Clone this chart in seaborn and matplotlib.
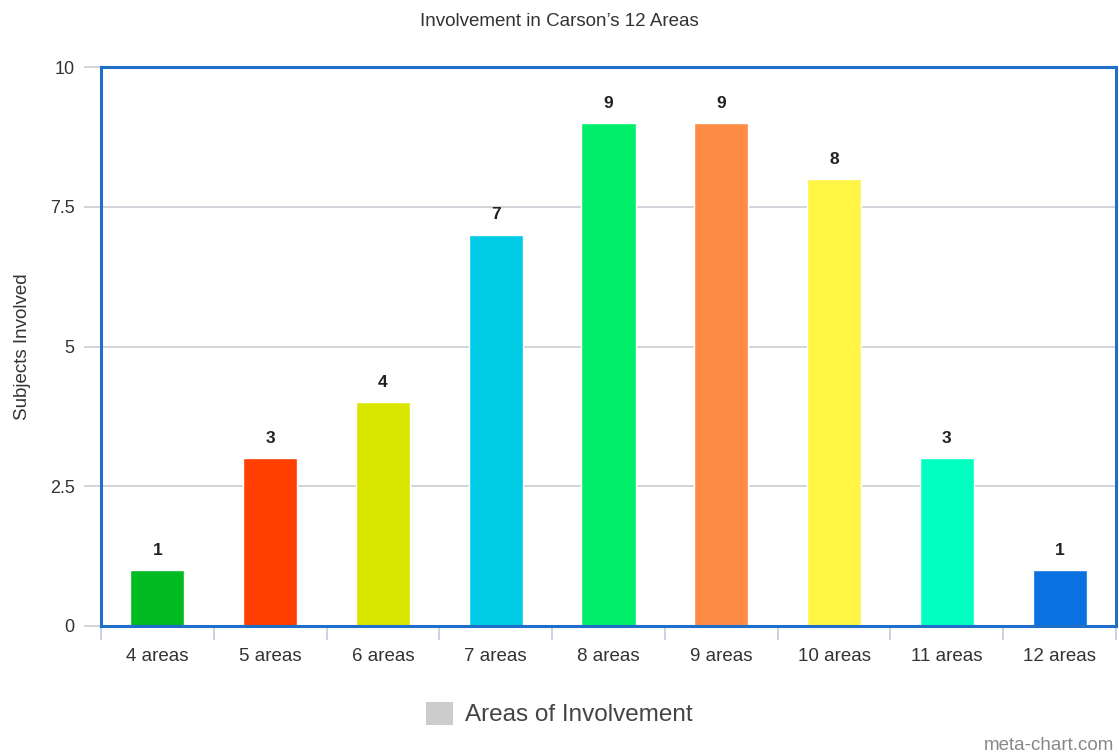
import matplotlib
matplotlib.use("Agg")
import matplotlib.pyplot as plt
from matplotlib.patches import Patch
import seaborn as sns
import pandas as pd
import numpy as np

# Chart data
categories = ["4 areas", "5 areas", "6 areas", "7 areas", "8 areas",
              "9 areas", "10 areas", "11 areas", "12 areas"]
subjects = [1, 3, 4, 7, 9, 9, 8, 3, 1]
bar_colors = ["#00BB22", "#FF4000", "#D9E600", "#00CCE6", "#00EE6A",
              "#FF8C45", "#FFF545", "#00FFC0", "#0A72E0"]
y_ticks = [0, 2.5, 5, 7.5, 10]
y_tick_labels = ["0", "2.5", "5", "7.5", "10"]

sns.set_theme(style="white")
plt.rcParams["font.family"] = ["Liberation Sans", "DejaVu Sans"]

df = pd.DataFrame({"category": categories, "subjects": subjects})

fig = plt.figure(figsize=(11.19, 7.56), dpi=100)
ax = fig.add_axes([101 / 1119, 1 - 626 / 756, (1116 - 101) / 1119, (626 - 67) / 756])

sns.barplot(data=df, x="category", y="subjects", hue="category",
            palette=bar_colors, order=categories, hue_order=categories,
            width=0.48, saturation=1, legend=False, ax=ax)

ax.set_xlim(-0.5, len(categories) - 0.5)
ax.set_ylim(0, 10)
ax.set_yticks(y_ticks)
ax.set_yticklabels(y_tick_labels, fontsize=13, color="#333333")
for y in y_ticks[1:-1]:
    ax.axhline(y, color="#C8CDD3", lw=1.2, zorder=0)
ax.tick_params(axis="y", length=12, width=1.2, color="#C8CDD3", pad=7, left=True)

# category labels, with tick marks on the category boundaries
ax.set_xticks(range(len(categories)))
ax.set_xticklabels(categories, fontsize=13.5, color="#333333")
ax.tick_params(axis="x", which="major", length=0, pad=16)
ax.set_xticks(np.arange(-0.5, len(categories)), minor=True)
ax.tick_params(axis="x", which="minor", length=10, width=1.2, color="#C0CCDA", bottom=True)

for side in ["left", "top", "right", "bottom"]:
    ax.spines[side].set_visible(True)
    ax.spines[side].set_color("#1F6FC8")
    ax.spines[side].set_linewidth(2.2)

ax.set_xlabel("")
ax.set_ylabel("Subjects Involved", fontsize=13.5, color="#333333")
ax.yaxis.set_label_coords((31 - 101) / 1015, 0.5)

for i, v in enumerate(subjects):
    ax.text(i, v + 0.22, str(v), ha="center", va="bottom",
            fontsize=12.5, fontweight="bold", color="#222222")

fig.text(0.5, 1 - 22 / 756, "Involvement in Carson\u2019s 12 Areas",
         ha="center", va="center", fontsize=13.5, color="#333333")

fig.legend(handles=[Patch(facecolor="#CCCCCC", edgecolor="none",
                          label="Areas of Involvement")],
           loc="center", bbox_to_anchor=(0.5, 1 - 714 / 756), frameon=False,
           fontsize=17.5, handlelength=1.1, handleheight=1.1, handletextpad=0.5,
           labelcolor="#444444")

fig.text(1114 / 1119, 1 - 746 / 756, "meta-chart.com", ha="right", va="center",
         fontsize=13.5, color="#888888")

fig.savefig("out.png", dpi=100, facecolor="white")
